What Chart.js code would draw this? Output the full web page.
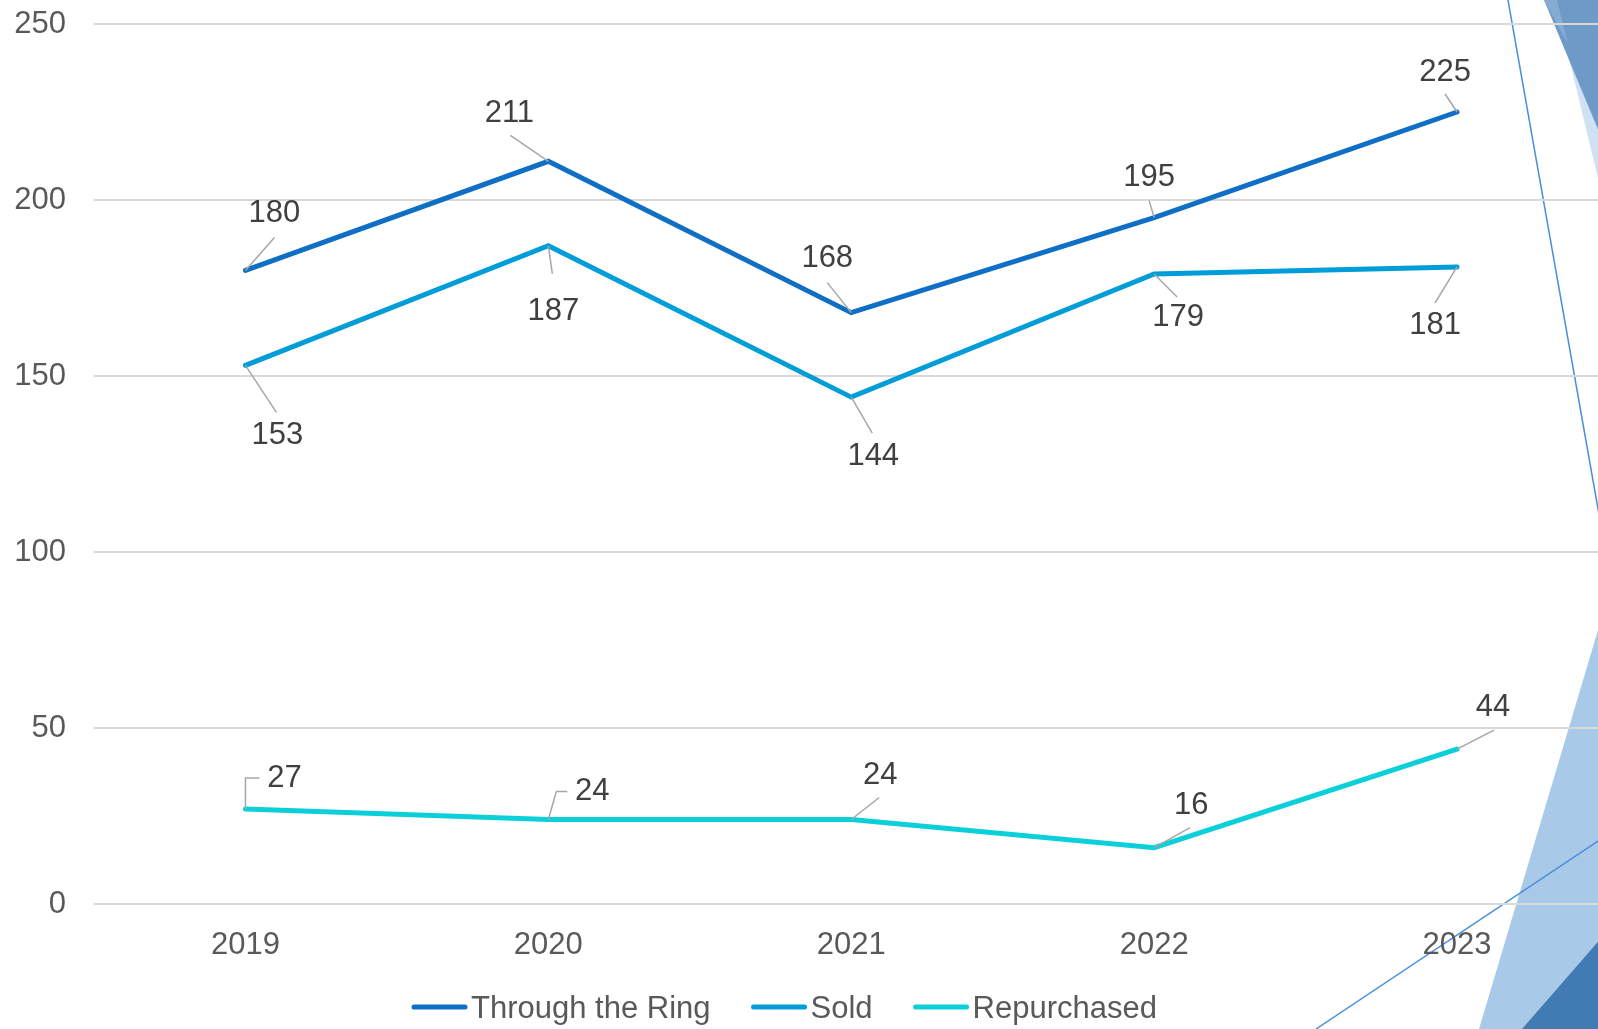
<!DOCTYPE html>
<html>
<head>
<meta charset="utf-8">
<script src="https://cdn.jsdelivr.net/npm/chart.js@4.4.1/dist/chart.umd.min.js"></script>
<style>
  html, body { margin: 0; padding: 0; overflow: hidden; background: #fff; }
  #wrap { position: relative; width: 1610px; height: 1029px; }
</style>
</head>
<body>
<div id="wrap"><canvas id="myChart" width="1610" height="1029"></canvas></div>
<script>
// dados do gráfico
const years = ['2019', '2020', '2021', '2022', '2023'];
const throughRing = [180, 211, 168, 195, 225];
const sold = [153, 187, 144, 179, 181];
const repurchased = [27, 24, 24, 16, 44];
const seriesNames = ['Through the Ring', 'Sold', 'Repurchased'];
const seriesColors = ['#0f6fc6', '#009dd9', '#0bd0d9'];

const FONT = "'Liberation Sans', Arial, sans-serif";

// posição dos rótulos em relação ao ponto: [dx, dy] do texto e fim da linha guia
// elbow = guia em "L" (vai ao lado do rótulo)
const labelPos = [
  [{t: [29, -57], l: [29, -33]}, {t: [-39, -48], l: [-38, -26]}, {t: [-24, -54], l: [-24, -30]},
   {t: [-5, -40], l: [-5, -17]}, {t: [-12, -40], l: [-12, -18]}],
  [{t: [32, 70], l: [31, 47]}, {t: [5, 66], l: [4, 28]}, {t: [22, 59], l: [21, 36]},
   {t: [24, 44], l: [23, 23]}, {t: [-22, 59], l: [-22, 36]}],
  [{t: [39, -31], b: [0, -31], l: [14, -31]}, {t: [44, -28], b: [8, -28], l: [19, -28]},
   {t: [29, -44], l: [28, -22]}, {t: [37, -42], l: [36, -20]}, {t: [36, -42], l: [37, -19]}]
];

// formas decorativas do tema (canto direito)
const decoPlugin = {
  id: 'deco',
  beforeDraw(chart) {
    const c = chart.ctx;
    const poly = (pts, col) => {
      c.beginPath();
      c.moveTo(pts[0][0], pts[0][1]);
      for (let i = 1; i < pts.length; i++) c.lineTo(pts[i][0], pts[i][1]);
      c.closePath();
      c.fillStyle = col;
      c.fill();
    };
    c.save();
    poly([[1555, 0], [1610, 0], [1610, 228]], '#cfe1f3');
    poly([[1544, 0], [1610, 0], [1610, 158]], '#6d9ac6');
    poly([[1544, 0], [1557, 0], [1568, 44]], '#87abd3');
    poly([[1598, 630], [1479, 1029], [1610, 1029], [1610, 590]], '#a9c9e8');
    poly([[1610, 928], [1522, 1029], [1610, 1029]], '#417bb4');
    c.strokeStyle = '#4a8fd8';
    c.lineWidth = 1.5;
    c.beginPath(); c.moveTo(1508, 0); c.lineTo(1600, 520); c.stroke();
    c.beginPath(); c.moveTo(1610, 833); c.lineTo(1316, 1029); c.stroke();
    c.restore();
  }
};

// rótulos de dados com linhas guia
const labelPlugin = {
  id: 'dataLabels',
  afterDatasetsDraw(chart) {
    const c = chart.ctx;
    c.save();
    chart.data.datasets.forEach((ds, i) => {
      const meta = chart.getDatasetMeta(i);
      meta.data.forEach((pt, j) => {
        const p = labelPos[i][j];
        c.strokeStyle = '#a6a6a6';
        c.lineWidth = 1.5;
        c.beginPath();
        c.moveTo(pt.x, pt.y);
        if (p.b) c.lineTo(pt.x + p.b[0], pt.y + p.b[1]);
        c.lineTo(pt.x + p.l[0], pt.y + p.l[1]);
        c.stroke();
        c.fillStyle = '#404040';
        c.font = '31px ' + FONT;
        c.textAlign = 'center';
        c.textBaseline = 'middle';
        c.fillText(String(ds.data[j]), pt.x + p.t[0], pt.y + p.t[1]);
      });
    });
    c.restore();
  }
};

// legenda desenhada à mão
const legendPlugin = {
  id: 'myLegend',
  afterDraw(chart) {
    const c = chart.ctx;
    c.save();
    c.font = '31px ' + FONT;
    c.textBaseline = 'alphabetic';
    c.textAlign = 'left';
    let x = 412;
    const y = 1007;
    chart.data.datasets.forEach((ds) => {
      c.strokeStyle = ds.borderColor;
      c.lineWidth = 5;
      c.lineCap = 'round';
      c.beginPath();
      c.moveTo(x + 2, y);
      c.lineTo(x + 53, y);
      c.stroke();
      c.fillStyle = '#595959';
      c.fillText(ds.label, x + 59, y + 11);
      x += 59 + c.measureText(ds.label).width + 41;
    });
    c.restore();
  }
};

const ctx = document.getElementById('myChart').getContext('2d');
const myChart = new Chart(ctx, {
  type: 'line',
  data: {
    labels: years,
    datasets: [throughRing, sold, repurchased].map((vals, i) => ({
      label: seriesNames[i],
      data: vals,
      borderColor: seriesColors[i],
      backgroundColor: seriesColors[i],
      borderWidth: 5,
      borderCapStyle: 'round',
      pointRadius: 0,
      tension: 0,
      fill: false
    }))
  },
  options: {
    responsive: false,
    animation: false,
    layout: { padding: { top: 24, right: 1.5, left: 0, bottom: 0 } },
    plugins: {
      legend: { display: false },
      tooltip: { enabled: false }
    },
    scales: {
      x: {
        offset: true,
        grid: { display: false },
        border: { display: false },
        ticks: { color: '#595959', font: { family: FONT, size: 31 }, padding: 15 },
        afterFit: (s) => { s.height = 125; s.paddingLeft = 0; s.paddingRight = 0; }
      },
      y: {
        min: 0,
        max: 250,
        ticks: { stepSize: 50, color: '#595959', font: { family: FONT, size: 31 }, padding: 28 },
        grid: { color: '#d9d9d9', lineWidth: 2, drawTicks: false },
        border: { display: false },
        afterFit: (s) => { s.width = 94; s.paddingTop = 0; s.paddingBottom = 0; }
      }
    }
  },
  plugins: [decoPlugin, labelPlugin, legendPlugin]
});
</script>
</body>
</html>
